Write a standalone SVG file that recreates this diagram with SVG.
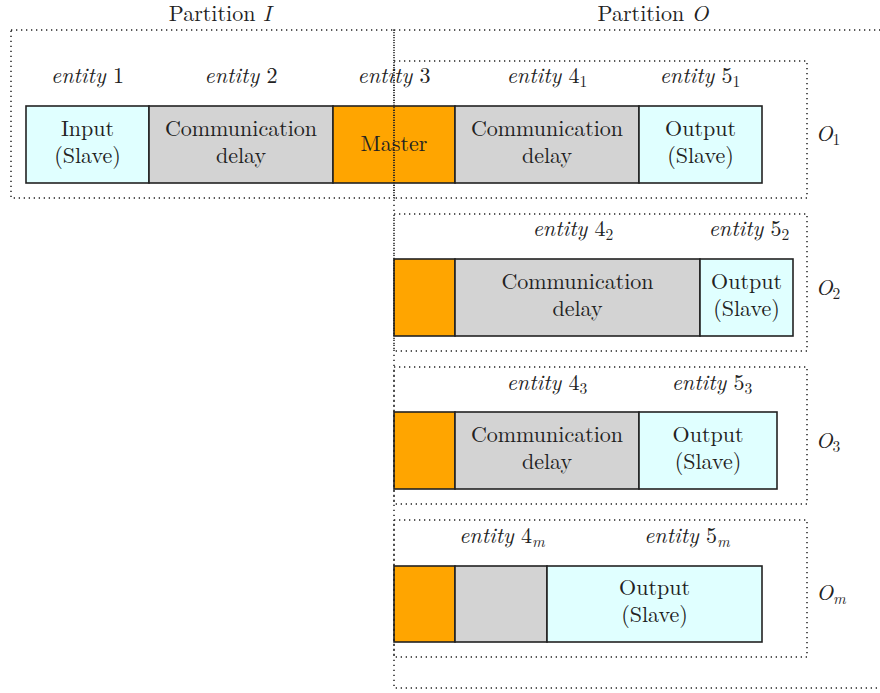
<svg xmlns="http://www.w3.org/2000/svg" width="880" height="693" viewBox="0 0 880 693">
<style>
text{fill:#222;text-anchor:middle}
.it{font-style:italic}
.sub{font-size:15.5px}
.box{stroke:#222;stroke-width:1.6}
.in{fill:#e0ffff}
.gr{fill:#d3d3d3}
.or{fill:#ffa500}
.dot{fill:none;stroke:#222;stroke-width:1.5;stroke-dasharray:1.3 3.7}
</style>
<rect width="880" height="693" fill="#fff"/>
<g id="diagram" font-family="Latin Modern Roman, Liberation Serif, serif" font-size="22">
<g id="labels">
<text x="220" y="21">Partition <tspan class="it">I</tspan></text>
<text x="653" y="21">Partition <tspan class="it">O</tspan></text>
</g>
<g id="row1">
<g id="input1"><rect class="box in" x="26" y="106" width="123" height="77"/><text x="87.5" y="136">Input</text><text x="87.5" y="163">(Slave)</text></g>
<g id="delay2"><rect class="box gr" x="149" y="106" width="184" height="77"/><text x="241" y="136">Communication</text><text x="241" y="163">delay</text></g>
<g id="master3"><rect class="box or" x="333" y="106" width="122" height="77"/><text x="394" y="151">Master</text></g>
<g id="delay41"><rect class="box gr" x="455" y="106" width="184" height="77"/><text x="547" y="136">Communication</text><text x="547" y="163">delay</text></g>
<g id="output51"><rect class="box in" x="639" y="106" width="123" height="77"/><text x="700.5" y="136">Output</text><text x="700.5" y="163">(Slave)</text></g>
<text x="87.5" y="83"><tspan class="it">entity</tspan> 1</text>
<text x="241" y="83"><tspan class="it">entity</tspan> 2</text>
<text x="394" y="83"><tspan class="it">entity</tspan> 3</text>
<text x="547" y="83"><tspan class="it">entity</tspan> 4<tspan class="sub" dy="3.5">1</tspan></text>
<text x="700" y="83"><tspan class="it">entity</tspan> 5<tspan class="sub" dy="3.5">1</tspan></text>
<text x="828" y="141"><tspan class="it">O</tspan><tspan class="sub" dy="3.5">1</tspan></text>
</g>
<g id="row2">
<g id="master_2"><rect class="box or" x="394" y="259" width="61" height="77"/></g>
<g id="delay42"><rect class="box gr" x="455" y="259" width="245" height="77"/><text x="577.5" y="289">Communication</text><text x="577.5" y="316">delay</text></g>
<g id="output52"><rect class="box in" x="700" y="259" width="93" height="77"/><text x="746.5" y="289">Output</text><text x="746.5" y="316">(Slave)</text></g>
<text x="573" y="236"><tspan class="it">entity</tspan> 4<tspan class="sub" dy="3.5">2</tspan></text>
<text x="749" y="236"><tspan class="it">entity</tspan> 5<tspan class="sub" dy="3.5">2</tspan></text>
<text x="828" y="295"><tspan class="it">O</tspan><tspan class="sub" dy="3.5">2</tspan></text>
</g>
<g id="row3">
<g id="master_3"><rect class="box or" x="394" y="412" width="61" height="77"/></g>
<g id="delay43"><rect class="box gr" x="455" y="412" width="184" height="77"/><text x="547" y="442">Communication</text><text x="547" y="469">delay</text></g>
<g id="output53"><rect class="box in" x="639" y="412" width="138" height="77"/><text x="708" y="442">Output</text><text x="708" y="469">(Slave)</text></g>
<text x="547" y="390"><tspan class="it">entity</tspan> 4<tspan class="sub" dy="3.5">3</tspan></text>
<text x="712" y="390"><tspan class="it">entity</tspan> 5<tspan class="sub" dy="3.5">3</tspan></text>
<text x="828" y="448"><tspan class="it">O</tspan><tspan class="sub" dy="3.5">3</tspan></text>
</g>
<g id="rowm">
<g id="master_m"><rect class="box or" x="394" y="566" width="61" height="76"/></g>
<g id="delay4m"><rect class="box gr" x="455" y="566" width="92" height="76"/></g>
<g id="output5m"><rect class="box in" x="547" y="566" width="215" height="76"/><text x="654.5" y="595">Output</text><text x="654.5" y="622">(Slave)</text></g>
<text x="502" y="543"><tspan class="it">entity</tspan> 4<tspan class="sub it" dy="3.5">m</tspan></text>
<text x="687" y="543"><tspan class="it">entity</tspan> 5<tspan class="sub it" dy="3.5">m</tspan></text>
<text x="831" y="600"><tspan class="it">O</tspan><tspan class="sub it" dy="3.5">m</tspan></text>
</g>
</g>
<g id="partitions">
<rect id="partitionI" class="dot" x="11" y="30" width="383" height="168"/>
<rect id="partitionO" class="dot" x="394" y="30" width="520" height="658"/>
<rect id="O1" class="dot" x="394" y="61" width="413" height="137"/>
<rect id="O2" class="dot" x="394" y="214" width="413" height="137"/>
<rect id="O3" class="dot" x="394" y="367" width="413" height="137"/>
<rect id="Om" class="dot" x="394" y="520" width="413" height="137"/>
</g>
<g id="connectors"/>
</svg>
